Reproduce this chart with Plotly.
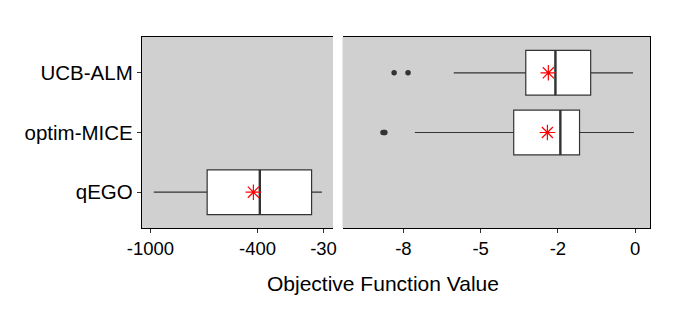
import plotly.graph_objects as go

# ---- data ----
methods = ["qEGO", "optim-MICE", "UCB-ALM"]
positions = [1, 2, 3]
panel = ["left", "right", "right"]
lower_whisker = [-981, -7.13, -5.87]
q1_vals = [-682, -3.93, -3.54]
median_vals = [-387, -2.42, -2.58]
q3_vals = [-97, -1.80, -1.44]
upper_whisker = [-39, -0.04, -0.07]
mean_vals = [-423, -2.84, -2.81]
outliers = {"qEGO": [], "optim-MICE": [-8.16, -8.12, -8.10], "UCB-ALM": [-7.80, -7.35]}

left_ticks = [-1000, -400, -30]
left_ticklabels = ["-1000", "-400", "-30"]
right_ticks = [-7.5, -5, -2.5, 0]
right_ticklabels = ["-8", "-5", "-2", "0"]

BOX_W = 0.75
LINE_C = "#333333"
PANEL_BG = "#D0D0D0"

fig = go.Figure()
for name, pos, pnl, lw, q1, med, q3, uw, mn in zip(methods, positions, panel, lower_whisker,
                                                   q1_vals, median_vals, q3_vals, upper_whisker, mean_vals):
    xa, ya = ("x", "y") if pnl == "left" else ("x2", "y2")
    fig.add_trace(go.Box(
        y=[pos], q1=[q1], median=[med], q3=[q3], lowerfence=[lw], upperfence=[uw],
        orientation="h", width=BOX_W, fillcolor="white", whiskerwidth=0,
        line=dict(color=LINE_C, width=1.2), boxpoints=False, hoverinfo="skip",
        xaxis=xa, yaxis=ya, showlegend=False))
    fig.add_trace(go.Scatter(
        x=[med, med], y=[pos - BOX_W / 2, pos + BOX_W / 2], mode="lines",
        line=dict(color=LINE_C, width=2.4), xaxis=xa, yaxis=ya, showlegend=False))
    if outliers[name]:
        fig.add_trace(go.Scatter(
            x=outliers[name], y=[pos] * len(outliers[name]), mode="markers",
            marker=dict(color=LINE_C, size=5.5), xaxis=xa, yaxis=ya, showlegend=False))
    fig.add_trace(go.Scatter(
        x=[mn], y=[pos], mode="markers",
        marker=dict(symbol="asterisk-open", size=13, color="red", line=dict(color="red", width=1.2)),
        xaxis=xa, yaxis=ya, showlegend=False))

FONT = "Liberation Sans, Arial, sans-serif"
tickfont_x = dict(family=FONT, size=18.5, color="black")
tickfont_y = dict(family=FONT, size=20.5, color="black")

fig.update_layout(
    width=677, height=317,
    margin=dict(l=134, r=35, t=29, b=97),
    paper_bgcolor="white",
    plot_bgcolor=PANEL_BG,
    xaxis=dict(domain=[0, 0.376], range=[-1047, 23], tickvals=left_ticks, ticktext=left_ticklabels,
               showgrid=False, zeroline=False, showline=True, mirror=True, linecolor="black", linewidth=1.3,
               ticks="outside", ticklen=4, tickcolor=LINE_C, tickfont=tickfont_x),
    xaxis2=dict(domain=[0.3947, 1], range=[-9.47, 0.48], tickvals=right_ticks, ticktext=right_ticklabels,
                showgrid=False, zeroline=False, showline=True, mirror=True, linecolor="black", linewidth=1.3,
                ticks="outside", ticklen=4, tickcolor=LINE_C, tickfont=tickfont_x, anchor="y2"),
    yaxis=dict(range=[0.4, 3.6], tickvals=positions, ticktext=methods, showgrid=False, zeroline=False,
               showline=True, linecolor="black", linewidth=1.3, ticks="outside", ticklen=4,
               tickcolor=LINE_C, tickfont=tickfont_y),
    yaxis2=dict(range=[0.4, 3.6], matches="y", anchor="x2", side="right", showticklabels=False,
                showgrid=False, zeroline=False, showline=True, linecolor="black", linewidth=1.3),
    annotations=[dict(text="Objective Function Value", xref="paper", yref="paper", x=0.474, y=-0.288,
                      xanchor="center", yanchor="middle", showarrow=False,
                      font=dict(family=FONT, size=21, color="black"))],
)

fig.write_html("out.html")
